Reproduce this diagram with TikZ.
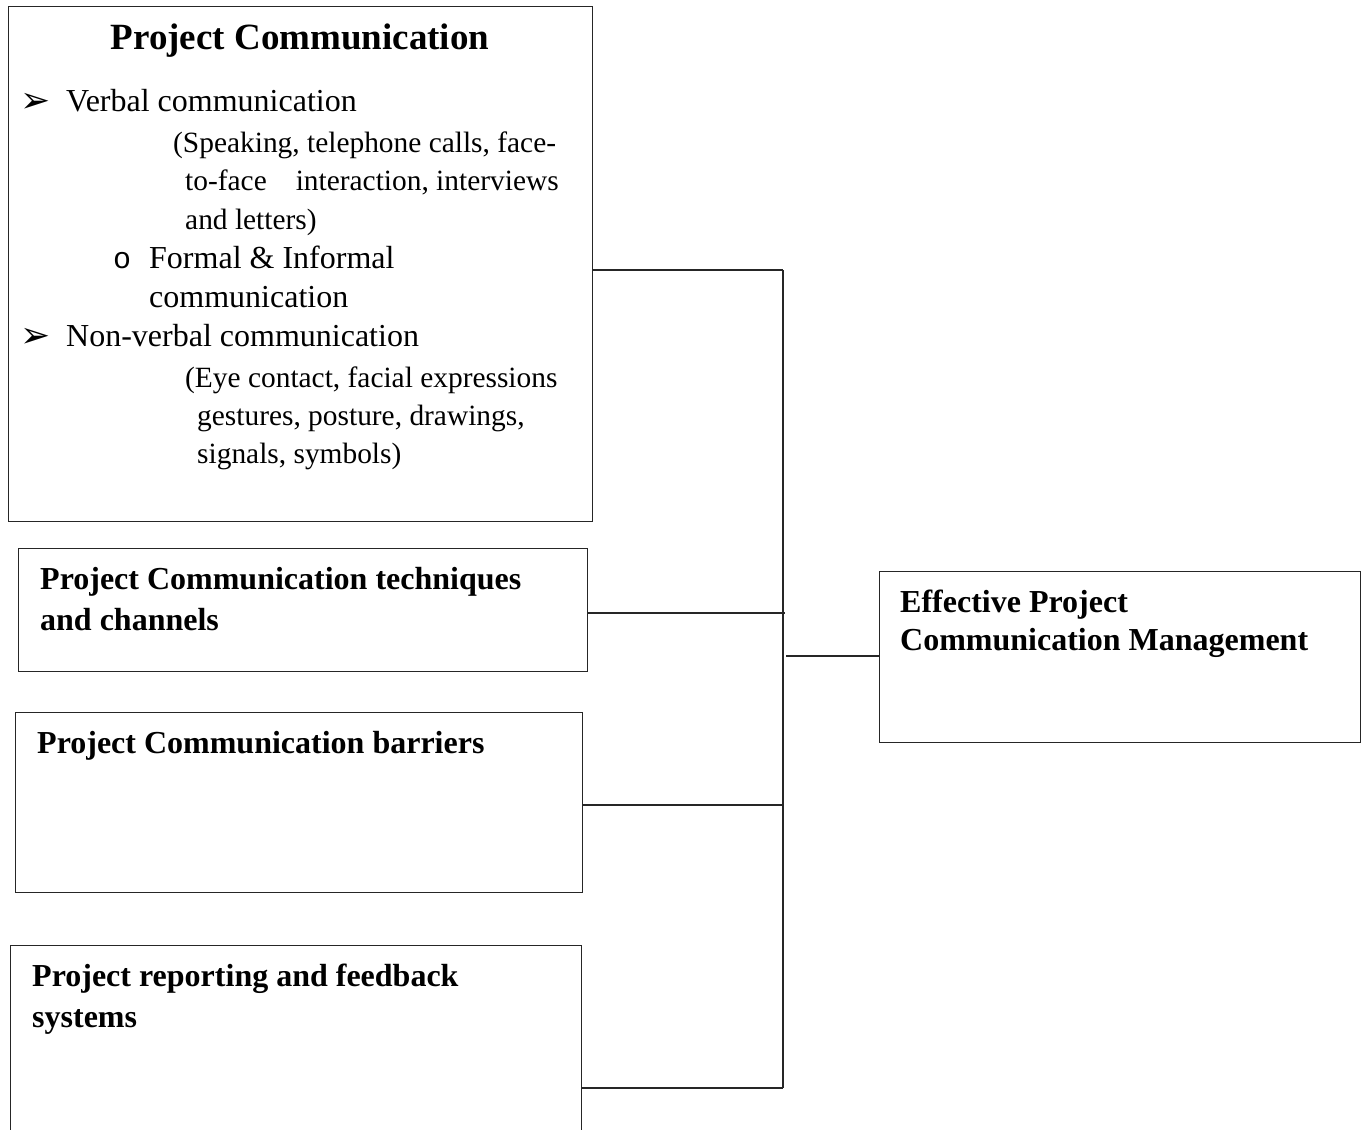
\documentclass[tikz,border=0pt]{standalone}
\usepackage{fontspec}
\setmainfont{Liberation Serif}
\newfontfamily\dingfont{DejaVu Sans}
\newfontfamily\monofont{Liberation Mono}
\begin{document}
\begin{tikzpicture}[x=1pt,y=-1pt,
  box/.style={draw=black!85,line width=1.4pt,rectangle,inner sep=0pt,anchor=north west},
  wire/.style={draw=black!85,line width=1.3pt},
  txt/.style={anchor=base west,inner sep=0pt,font=\fontsize{32}{38}\selectfont},
  stxt/.style={anchor=base west,inner sep=0pt,font=\fontsize{29.4}{38}\selectfont},
  btxt/.style={anchor=base west,inner sep=0pt,font=\fontsize{32}{40}\selectfont\bfseries},
  arrowbullet/.style={anchor=base west,inner sep=0pt,font=\fontsize{36}{40}\selectfont\dingfont},
  ringbullet/.style={anchor=base west,inner sep=0pt,font=\fontsize{30}{36}\selectfont\monofont}]
\useasboundingbox (0,0) rectangle (1367,1129);
\clip (0,0) rectangle (1367,1129);

% boxes
\node[box,minimum width=584pt,minimum height=515pt] (pc) at (8,6) {};
\node[box,minimum width=569pt,minimum height=123pt] (tc) at (18,548) {};
\node[box,minimum width=567pt,minimum height=180pt] (cb) at (15,712) {};
\node[box,minimum width=571pt,minimum height=240pt] (rf) at (10,945) {};
\node[box,minimum width=481pt,minimum height=171pt] (eff) at (879,571) {};

% text of the communication box
\node[anchor=base,inner sep=0pt,font=\fontsize{37}{44}\selectfont\bfseries] (title) at (300,50) {Project Communication};
\node[arrowbullet] (b1) at (20,113) {➢};
\node[txt] (l1) at (66,112) {Verbal communication};
\node[stxt] (l2) at (173,152) {(Speaking, telephone calls, face-};
\node[stxt] (l3) at (185,190) {to-face\hspace{29pt}interaction, interviews};
\node[stxt] (l4) at (185,229) {and letters)};
\node[ringbullet] (b2) at (113,268) {o};
\node[txt] (l5) at (149,268) {Formal \& Informal};
\node[txt] (l6) at (149,307) {communication};
\node[arrowbullet] (b3) at (20,347) {➢};
\node[txt] (l7) at (66,346) {Non-verbal communication};
\node[stxt] (l8) at (185,387) {(Eye contact, facial expressions};
\node[stxt] (l9) at (197,425) {gestures, posture, drawings,};
\node[stxt] (l10) at (197,463) {signals, symbols)};

% labels of the other boxes
\node[btxt] (t1) at (40,589) {Project Communication techniques};
\node[btxt] (t2) at (40,630) {and channels};
\node[btxt] (t3) at (37,753) {Project Communication barriers};
\node[btxt] (t4) at (32,986) {Project reporting and feedback};
\node[btxt] (t5) at (32,1027) {systems};
\node[btxt] (t6) at (900,612) {Effective Project};
\node[btxt] (t7) at (900,650) {Communication Management};

% connectors
\coordinate (bustop) at (783,270);
\coordinate (bus2) at (785,613);
\coordinate (bus3) at (783,805);
\coordinate (busbot) at (783,1088);
\coordinate (busmid) at (786,656);
\draw[wire] (pc.east |- bustop) -- (bustop);
\draw[wire] (tc.east |- bus2) -- (bus2);
\draw[wire] (cb.east |- bus3) -- (bus3);
\draw[wire] (rf.east |- busbot) -- (busbot);
\draw[wire] (bustop) -- (busbot);
\draw[wire] (busmid) -- (eff.west |- busmid);
\end{tikzpicture}
\end{document}
